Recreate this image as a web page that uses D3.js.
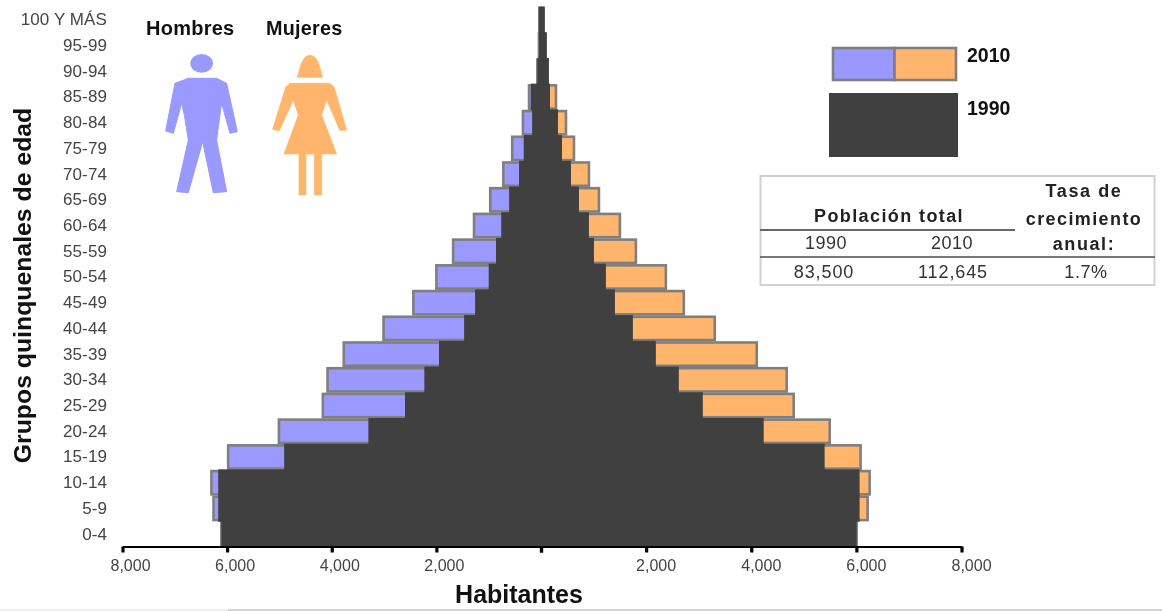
<!DOCTYPE html>
<html><head><meta charset="utf-8">
<script src="https://cdn.jsdelivr.net/npm/d3@7"></script>
<style>
html,body{margin:0;padding:0;background:#fff;overflow:hidden}
svg{display:block;font-family:"Liberation Sans",Arial,sans-serif;filter:blur(0.5px)}
</style></head><body><svg id="c" width="1162" height="611"></svg>
<script>
const ageGroups = ["0-4","5-9","10-14","15-19","20-24","25-29","30-34","35-39","40-44","45-49","50-54","55-59","60-64","65-69","70-74","75-79","80-84","85-89","90-94","95-99","100 Y MÁS"];
const men2010   = [6110,6260,6300,5980,5010,4170,4080,3770,3010,2440,2000,1680,1280,970,720,550,345,229,70,40,20];
const women2010 = [6005,6214,6252,6080,5492,4807,4674,4105,3306,2717,2375,1805,1501,1102,912,627,475,285,120,85,50];
const men1990   = [6110,6170,6170,4910,3300,2600,2230,1950,1470,1260,1000,860,760,610,420,330,170,195,70,40,50];
const women1990 = [6005,6061,6061,5396,4237,3078,2622,2185,1748,1406,1235,1007,912,722,570,399,323,171,150,110,70];
const xTicks = [8000,6000,4000,2000,0];
const popHeader = ["1990","2010"];
const popValues = ["83,500","112,645","1.7%"];

const BLUE="#9999ff", ORANGE="#ffb66c", DARK="#404040", EDGE="#7f7f7f";
const svg=d3.select("#c");
const xL=d3.scaleLinear().domain([8000,0]).range([122.5,541]);
const xR=d3.scaleLinear().domain([0,8000]).range([541,961.5]);
const y=d3.scaleBand().domain(ageGroups).range([547,7]).padding(0);

const rows=ageGroups.map((a,i)=>({a,m10:men2010[i],f10:women2010[i],m90:men1990[i],f90:women1990[i]}));
const g10=svg.append("g").attr("stroke",EDGE).attr("stroke-width",2.6);
g10.selectAll("rect.m").data(rows).join("rect").attr("class","m")
  .attr("x",d=>xL(d.m10)).attr("width",d=>xL(0)-xL(d.m10))
  .attr("y",d=>y(d.a)+1.2).attr("height",y.bandwidth()-2.4).attr("fill",BLUE);
g10.selectAll("rect.f").data(rows).join("rect").attr("class","f")
  .attr("x",xR(0)).attr("width",d=>xR(d.f10)-xR(0))
  .attr("y",d=>y(d.a)+1.2).attr("height",y.bandwidth()-2.4).attr("fill",ORANGE);
const g90=svg.append("g").attr("fill",DARK);
g90.selectAll("rect.m").data(rows).join("rect").attr("class","m")
  .attr("x",d=>xL(d.m90)).attr("width",d=>xL(0)-xL(d.m90)+1)
  .attr("y",d=>y(d.a)-0.5).attr("height",y.bandwidth()+1);
g90.selectAll("rect.f").data(rows).join("rect").attr("class","f")
  .attr("x",xR(0)).attr("width",d=>xR(d.f90)-xR(0))
  .attr("y",d=>y(d.a)-0.5).attr("height",y.bandwidth()+1);

function styleAxis(g,dx){
  g.selectAll("path.domain").attr("stroke","#000").attr("stroke-width",2.2);
  g.selectAll(".tick line").attr("stroke","#000").attr("stroke-width",3.2);
  g.selectAll("text").attr("font-family","'Liberation Sans',Arial,sans-serif").attr("font-size",16).attr("fill","#444").attr("dx",dx);
}
const fmt=d=>d===0?"":d3.format(",")(d);
svg.append("g").attr("transform","translate(0,546.5)")
  .call(d3.axisBottom(xL).tickValues(xTicks).tickSize(6).tickSizeOuter(0).tickPadding(7).tickFormat(fmt)).call(styleAxis,7.5);
svg.append("g").attr("transform","translate(0,546.5)")
  .call(d3.axisBottom(xR).tickValues(xTicks.slice().reverse()).tickSize(6).tickSizeOuter(0).tickPadding(7).tickFormat(fmt)).call(styleAxis,9.5);
const yAxis=svg.append("g").attr("transform","translate(107,0)")
  .call(d3.axisLeft(y).tickSize(0).tickPadding(0));
yAxis.select("path.domain").remove();
yAxis.selectAll("text").attr("font-family","'Liberation Sans',Arial,sans-serif").attr("font-size",17).attr("fill","#444").attr("letter-spacing",0.1);

function T(x,yy,s,size,opts={}){
  return svg.append("text").attr("x",x).attr("y",yy).text(s).attr("font-size",size)
    .attr("font-weight",opts.bold?"bold":"normal").attr("fill",opts.fill||"#111")
    .attr("text-anchor",opts.anchor||"start").attr("letter-spacing",opts.ls||0);
}
T(519,603,"Habitantes",25,{bold:true,anchor:"middle"});
svg.append("text").attr("transform","translate(31,285.5) rotate(-90)").attr("text-anchor","middle")
  .attr("font-size",24.8).attr("font-weight","bold").attr("fill","#111").text("Grupos quinquenales de edad");
T(146,35,"Hombres",20,{bold:true,ls:0.25});
T(266,35,"Mujeres",19.8,{bold:true,ls:0.25});

const man=svg.append("g").attr("transform","scale(0.3333)").attr("fill",BLUE);
man.append("ellipse").attr("cx",605).attr("cy",190).attr("rx",34).attr("ry",28);
man.append("path").attr("stroke",BLUE).attr("stroke-width",3).attr("stroke-linejoin","round")
  .attr("d","M565,235L650,235L680,250L712,395L690,400L665,310L660,345L650,420L680,575L640,578L608,425L565,578L530,575L565,420L553,345L545,310L520,400L497,393L525,250Z");
const wom=svg.append("g").attr("transform","scale(0.3333)").attr("fill",ORANGE);
wom.append("path").attr("stroke",ORANGE).attr("stroke-width",2).attr("stroke-linejoin","round")
  .attr("d","M930,166C952,166 958,195 968,232L892,232C902,195 908,166 930,166Z");
wom.append("path").attr("stroke",ORANGE).attr("stroke-width",2).attr("stroke-linejoin","round")
  .attr("d","M870,250L990,250L1003,262L1040,390L1020,392L980,300L965,345L1010,462L965,462L965,585L943,585L943,462L918,462L918,585L897,585L897,462L852,462L895,345L880,300L838,392L818,388L857,262Z");

svg.append("rect").attr("x",833).attr("y",48).attr("width",61.5).attr("height",32).attr("fill",BLUE).attr("stroke",EDGE).attr("stroke-width",2.6);
svg.append("rect").attr("x",894.5).attr("y",48).attr("width",61.5).attr("height",32).attr("fill",ORANGE).attr("stroke",EDGE).attr("stroke-width",2.6);
svg.append("rect").attr("x",829).attr("y",93).attr("width",129).attr("height",64).attr("fill",DARK);
T(967,62,"2010",19.5,{bold:true});
T(967,115,"1990",19.5,{bold:true});

svg.append("rect").attr("x",760.5).attr("y",176).attr("width",394).attr("height",109).attr("fill","none").attr("stroke","#d0d0d0").attr("stroke-width",2);
svg.append("line").attr("x1",760).attr("x2",1015).attr("y1",230).attr("y2",230).attr("stroke","#666").attr("stroke-width",1.8);
svg.append("line").attr("x1",760).attr("x2",1155).attr("y1",257).attr("y2",257).attr("stroke","#777").attr("stroke-width",2.2);
T(889,222,"Población total",18,{bold:true,anchor:"middle",ls:1.4,fill:"#222"});
T(1084,197,"Tasa de",18,{bold:true,anchor:"middle",ls:1.6,fill:"#222"});
T(1084,225,"crecimiento",18,{bold:true,anchor:"middle",ls:1.4,fill:"#222"});
T(1084,250,"anual:",18,{bold:true,anchor:"middle",ls:1.6,fill:"#222"});
T(826,249,popHeader[0],18,{anchor:"middle",ls:0.5,fill:"#333"});
T(952,249,popHeader[1],18,{anchor:"middle",ls:0.5,fill:"#333"});
T(824,278,popValues[0],18,{anchor:"middle",ls:0.9,fill:"#333"});
T(953,278,popValues[1],18,{anchor:"middle",ls:0.9,fill:"#333"});
T(1086,278,popValues[2],18,{anchor:"middle",ls:0.6,fill:"#333"});

svg.append("line").attr("x1",0).attr("x2",228).attr("y1",610).attr("y2",610).attr("stroke","#efefef").attr("stroke-width",2);
svg.append("line").attr("x1",228).attr("x2",1162).attr("y1",610).attr("y2",610).attr("stroke","#d4d4d4").attr("stroke-width",2);
</script></body></html>
